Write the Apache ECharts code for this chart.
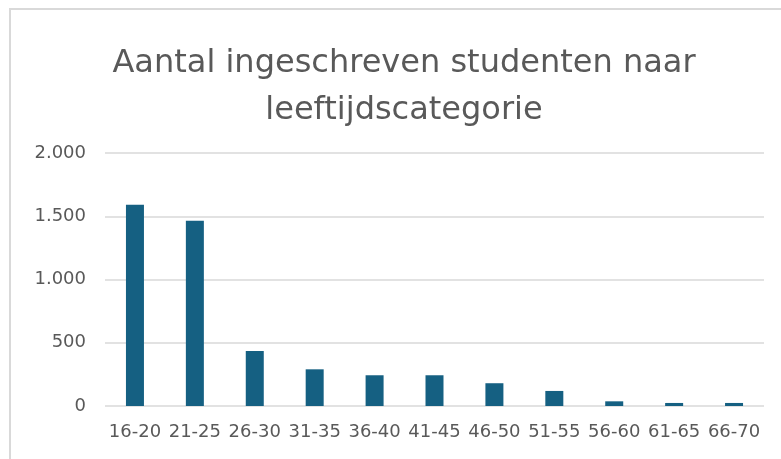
<!DOCTYPE html>
<html>
	<head>
		<meta charset="UTF-8">
		<title>Aantal ingeschreven studenten naar leeftijdscategorie</title>
		<script type="text/javascript" src="https://cdn.jsdelivr.net/npm/echarts@6/dist/echarts.min.js"></script>
		<style>
			html, body { margin: 0; padding: 0; background: #fff; }
			#main { width: 781px; height: 459px; }
		</style>
	</head>
	<body>
		<div id="main"></div>
		<script type="text/javascript">
			// leeftijdscategorieen en aantallen
			var categorieen = ['16-20', '21-25', '26-30', '31-35', '36-40', '41-45', '46-50', '51-55', '56-60', '61-65', '66-70'];
			var aantallen = [1590, 1465, 435, 290, 243, 243, 180, 119, 37, 24, 24];
			var yTicks = [0, 500, 1000, 1500, 2000];

			// 2000 -> "2.000"
			function fmt(v){
				return String(v).replace(/\B(?=(\d{3})+(?!\d))/g, '.');
			}

			var chart = echarts.init(document.getElementById('main'));
			chart.setOption({
				animation: false,
				title: {
					text: 'Aantal ingeschreven studenten naar\nleeftijdscategorie',
					left: 399,
					top: 35,
					textAlign: 'center',
					textStyle: {
						fontFamily: 'DejaVu Sans',
						fontSize: 32,
						fontWeight: 'normal',
						color: '#595959',
						lineHeight: 47
					}
				},
				graphic: [{
					type: 'polyline',
					shape: { points: [[10, 470], [10, 9], [790, 9]] },
					style: { stroke: '#d9d9d9', lineWidth: 2, fill: null }
				}],
				grid: { left: 105, right: 17, top: 153, bottom: 53 },
				xAxis: {
					type: 'category',
					data: categorieen,
					axisTick: { show: false },
					axisLine: { show: false },
					axisLabel: {
						interval: 0,
						margin: 17,
						fontFamily: 'DejaVu Sans',
						fontSize: 18,
						color: '#595959'
					}
				},
				yAxis: {
					type: 'value',
					min: yTicks[0],
					max: yTicks[yTicks.length - 1],
					interval: 500,
					axisLine: { show: false },
					axisTick: { show: false },
					splitLine: { lineStyle: { color: '#d9d9d9', width: 1.5 } },
					axisLabel: {
						margin: 19,
						fontFamily: 'DejaVu Sans',
						fontSize: 18,
						color: '#595959',
						formatter: fmt
					}
				},
				series: [{
					type: 'bar',
					data: aantallen,
					barWidth: 18,
					itemStyle: { color: '#156082' }
				}]
			});
		</script>
	</body>
</html>
